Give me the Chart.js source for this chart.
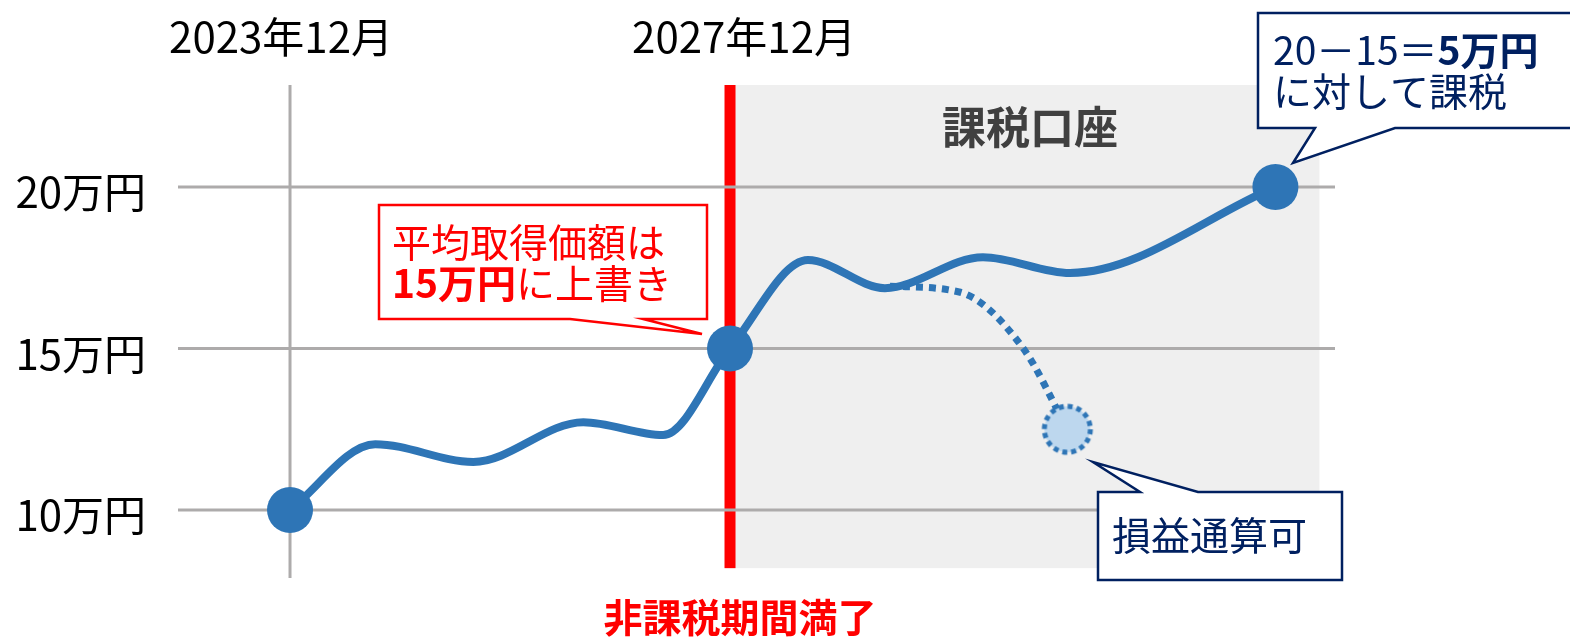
<!DOCTYPE html>
<html><head><meta charset="utf-8">
<script src="https://cdn.jsdelivr.net/npm/chart.js@4.4.1/dist/chart.umd.min.js"></script>
<style>html,body{margin:0;padding:0;background:#fff;overflow:hidden}</style>
</head><body>
<canvas id="c" width="1570" height="638"></canvas>
<script>
// ---- data ----
const yTicks = [10, 15, 20];
const yTickLabels = ['10万円', '15万円', '20万円'];
const xTickValues = [0, 48];
const xTickLabels = ['2023年12月', '2027年12月'];
const priceX = [0, 9.3, 20, 32, 40.7, 48, 56.5, 64.9, 75.6, 85.1, 107.5];
const priceY = [10, 12.04, 11.49, 12.72, 12.32, 15, 17.74, 16.87, 17.83, 17.34, 20];
const lossX = [65.45, 73, 80, 84.8];
const lossY = [16.93, 16.75, 15, 12.5];
const markerX = [0, 48, 107.5];
const markerY = [10, 15, 20];
const lossPointX = [84.8];
const lossPointY = [12.5];
const expiryX = 48;
const taxableRange = [48, 112.3];
const shadeBottom = 8.2;

const FONT = '"Noto Sans CJK JP", "Noto Sans", sans-serif';
const BLUE = '#2E75B6', NAVY = '#002060', RED = '#FF0000', GRID = '#ADABAB';

const zip = (xs, ys) => xs.map((x, i) => ({x, y: ys[i]}));

// dashed-border light circle as a point style
const lossImg = document.createElement('canvas');
lossImg.width = 60; lossImg.height = 60;
(function(){
  const g = lossImg.getContext('2d');
  g.beginPath(); g.arc(30, 30, 23, 0, Math.PI*2);
  g.fillStyle = '#BDD7EE'; g.fill();
  g.setLineDash([5, 4]); g.lineWidth = 5; g.strokeStyle = BLUE; g.stroke();
})();

function runs(ctx, x, y, parts, size, color) {
  let cx = x;
  ctx.fillStyle = color; ctx.textBaseline = 'alphabetic'; ctx.textAlign = 'left';
  for (const p of parts) {
    ctx.font = (p.b ? 'bold ' : '') + size + 'px ' + FONT;
    ctx.fillText(p.t, cx, y);
    cx += ctx.measureText(p.t).width;
  }
}

function callout(ctx, box, tail, color) {
  const [l, t, r, b] = box;
  ctx.beginPath();
  ctx.moveTo(l, t);
  if (tail.side === 'top') { ctx.lineTo(tail.a, t); ctx.lineTo(tail.tip[0], tail.tip[1]); ctx.lineTo(tail.b, t); }
  ctx.lineTo(r, t); ctx.lineTo(r, b);
  if (tail.side === 'bottom') { ctx.lineTo(tail.b, b); ctx.lineTo(tail.tip[0], tail.tip[1]); ctx.lineTo(tail.a, b); }
  ctx.lineTo(l, b); ctx.closePath();
  ctx.fillStyle = '#fff'; ctx.fill();
  ctx.lineWidth = 2.5; ctx.strokeStyle = color; ctx.lineJoin = 'miter'; ctx.stroke();
}

const decor = {
  id: 'decor',
  beforeDatasetsDraw(chart) {
    const {ctx, chartArea: a, scales: {x: xs, y: ys}} = chart;
    ctx.save();
    const sx1 = xs.getPixelForValue(taxableRange[0]), sx2 = xs.getPixelForValue(taxableRange[1]);
    const sb = ys.getPixelForValue(shadeBottom);
    ctx.fillStyle = '#EFEFEF';
    ctx.fillRect(sx1, a.top, sx2 - sx1, sb - a.top);
    ctx.fillStyle = RED;
    const rx = xs.getPixelForValue(expiryX);
    ctx.fillRect(rx - 5.5, a.top, 11, sb - a.top);
    ctx.strokeStyle = GRID; ctx.lineWidth = 3;
    const vx = xs.getPixelForValue(xTickValues[0]);
    ctx.beginPath(); ctx.moveTo(vx, a.top); ctx.lineTo(vx, a.bottom); ctx.stroke();
    yTicks.forEach(v => {
      const py = ys.getPixelForValue(v);
      ctx.beginPath(); ctx.moveTo(a.left, py); ctx.lineTo(a.right, py); ctx.stroke();
    });
    ctx.fillStyle = '#000'; ctx.font = '42px ' + FONT; ctx.textAlign = 'right'; ctx.textBaseline = 'alphabetic';
    yTicks.forEach((v, i) => ctx.fillText(yTickLabels[i], a.left - 32, ys.getPixelForValue(v) + 21));
    ctx.textAlign = 'center';
    xTickValues.forEach((v, i) => ctx.fillText(xTickLabels[i], xs.getPixelForValue(v) + (i ? 14 : -9), 53));
    ctx.restore();
  },
  afterDatasetsDraw(chart) {
    const {ctx, scales: {x: xs}} = chart;
    ctx.save();
    ctx.fillStyle = '#404040'; ctx.font = 'bold 44px ' + FONT; ctx.textAlign = 'center'; ctx.textBaseline = 'alphabetic';
    ctx.fillText('課税口座', 1030, 144);
    ctx.fillStyle = RED; ctx.font = 'bold 39px ' + FONT;
    ctx.fillText('非課税期間満了', xs.getPixelForValue(expiryX) + 10, 632);
    callout(ctx, [379, 205, 707, 319], {side: 'bottom', a: 570, b: 643, tip: [702, 334]}, RED);
    runs(ctx, 392, 257, [{t: '平均取得価額は'}], 39, RED);
    runs(ctx, 392, 298, [{t: '15万円', b: true}, {t: 'に上書き'}], 39, RED);
    callout(ctx, [1258, 13, 1580, 128], {side: 'bottom', a: 1315, b: 1395, tip: [1293, 163]}, NAVY);
    runs(ctx, 1273, 65, [{t: '20－15＝'}, {t: '5万円', b: true}], 39, NAVY);
    runs(ctx, 1273, 106, [{t: 'に対して課税'}], 39, NAVY);
    callout(ctx, [1098, 492, 1342, 580], {side: 'top', a: 1140, b: 1198, tip: [1093, 462]}, NAVY);
    runs(ctx, 1112, 550, [{t: '損益通算可'}], 39, NAVY);
    ctx.restore();
  }
};

new Chart(document.getElementById('c'), {
  type: 'scatter',
  data: {
    datasets: [
      {data: zip(lossX, lossY), showLine: true, borderColor: BLUE, borderWidth: 7, borderDash: [7, 6],
       borderCapStyle: 'butt', pointRadius: 0, cubicInterpolationMode: 'monotone', clip: false, order: 3},
      {data: zip(priceX, priceY), showLine: true, borderColor: BLUE, borderWidth: 8,
       pointRadius: 0, cubicInterpolationMode: 'monotone', clip: false, order: 2},
      {data: zip(markerX, markerY), showLine: false, pointRadius: 23, pointBackgroundColor: BLUE,
       pointBorderWidth: 0, clip: false, order: 1},
      {data: zip(lossPointX, lossPointY), showLine: false, pointStyle: lossImg, pointRadius: 25, clip: false, order: 0}
    ]
  },
  options: {
    responsive: false, animation: false, devicePixelRatio: 1,
    layout: {padding: {left: 178, right: 235, top: 85, bottom: 60}},
    scales: {
      x: {type: 'linear', min: -12.22, max: 114.0, display: false},
      y: {type: 'linear', min: 7.895, max: 23.16, display: false}
    },
    plugins: {legend: {display: false}, tooltip: {enabled: false}},
    events: []
  },
  plugins: [decor]
});
</script>
</body></html>
